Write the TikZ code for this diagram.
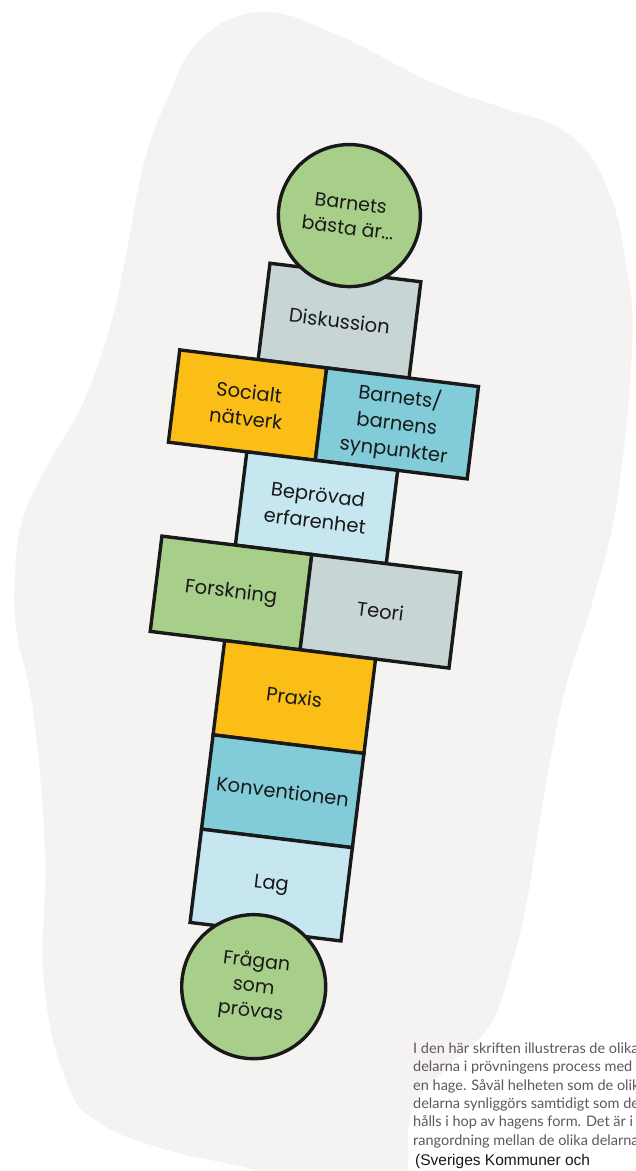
\documentclass[tikz,border=0pt]{standalone}
\usepackage{fontspec}
\setmainfont{Poppins}
\newfontfamily\notefont{Lato}
\newfontfamily\arialfont{Liberation Sans}
\definecolor{cgreen}{RGB}{168,207,138}
\definecolor{cgray}{RGB}{200,213,213}
\definecolor{corange}{RGB}{251,190,22}
\definecolor{cteal}{RGB}{130,204,218}
\definecolor{clight}{RGB}{198,230,240}
\definecolor{blobcol}{RGB}{244,243,241}
\definecolor{inkcol}{RGB}{25,25,25}
\definecolor{notecol}{RGB}{95,86,100}
\tikzset{
  hbox/.style={draw=inkcol, line width=3.4pt, rectangle, inner sep=0pt, align=center,
    text=inkcol, font=\fontsize{19.5}{26.5}\selectfont},
  hcirc/.style={draw=inkcol, line width=3.4pt, circle, inner sep=0pt, align=center,
    fill=cgreen, text=inkcol, font=\fontsize{19}{25}\selectfont}
}
\begin{document}
\begin{tikzpicture}[x=1pt,y=-1pt]
\useasboundingbox (0,0) rectangle (636,1171);
\fill[white] (0,0) rectangle (636,1171);
\begin{scope}
\clip (0,0) rectangle (636,1171);
\fill[blobcol] plot[smooth cycle, tension=0.7] coordinates {
  (260,12) (333,33) (433,83) (500,107) (567,133) (607,187) (627,270) (632,350)
  (617,500) (593,600) (565,690) (545,790) (527,900) (510,970) (490,1025)
  (450,1065) (412,1110) (400,1190) (330,1210) (267,1174) (167,1150) (100,1123)
  (67,1083) (44,983) (45,850) (33,710) (17,633) (15,576) (23,518) (50,461)
  (83,403) (110,327) (127,250) (143,167) (167,100) (200,40)};
\end{scope}

\begin{scope}[shift={(268,263)}, rotate=-7, transform shape]
  \node[hbox, fill=cgray, minimum width=152pt, minimum height=97pt] (disk) at (78,48.5) {Diskussion};
  \node[hbox, fill=corange, minimum width=148pt, minimum height=93pt] (soc) at (-3,143.5) {Socialt\\nätverk};
  \node[hbox, fill=cteal, minimum width=153pt, minimum height=93pt] (barn) at (147.5,143.5) {Barnets/\\barnens\\synpunkter};
  \node[hbox, fill=clight, minimum width=152pt, minimum height=94pt] (bep) at (78,237) {Beprövad\\erfarenhet};
  \node[hbox, fill=cgreen, minimum width=151pt, minimum height=96pt] (fors) at (3.5,332) {Forskning};
  \node[hbox, fill=cgray, minimum width=150pt, minimum height=96pt] (teori) at (154,332) {Teori};
  \node[hbox, fill=corange, minimum width=152pt, minimum height=95pt] (praxis) at (79,427.5) {Praxis};
  \node[hbox, fill=cteal, minimum width=152pt, minimum height=95pt] (konv) at (79,522.5) {Konventionen};
  \node[hbox, fill=clight, minimum width=152pt, minimum height=94pt] (lag) at (79,617) {Lag};
  \node[hcirc, minimum size=142pt] (topc) at (75,-57) {Barnets\\bästa är...};
  \node[hcirc, minimum size=144pt] (botc) at (74,720) {Frågan\\som\\prövas};
\end{scope}

\begin{scope}
\clip (0,0) rectangle (636,1171);
\node[anchor=base west, inner sep=0pt, align=left, text=notecol,
  font=\notefont\fontsize{14.5}{18.3}\selectfont] (note) at (413,1145)
  {I den här skriften illustreras de olika\\
   delarna i prövningens process med\\
   en hage. Såväl helheten som de olika\\
   delarna synliggörs samtidigt som de\\
   hålls i hop av hagens form. Det är i\\
   rangordning mellan de olika delarna};
\node[anchor=base west, inner sep=0pt, text=inkcol,
  font=\arialfont\fontsize{15.5}{18}\selectfont] (src) at (415,1165)
  {(Sveriges Kommuner och};
\end{scope}
\end{tikzpicture}
\end{document}
